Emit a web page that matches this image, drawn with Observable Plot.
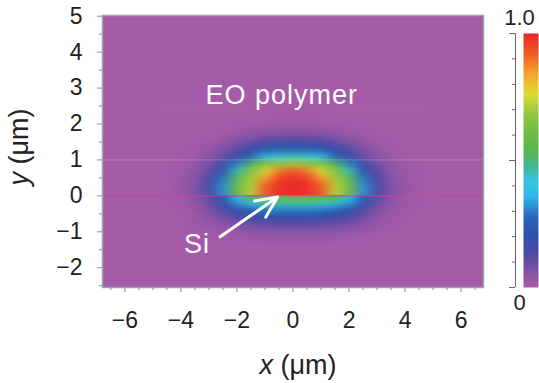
<!DOCTYPE html>
<html><head><meta charset="utf-8">
<script src="https://cdn.jsdelivr.net/npm/d3@7"></script>
<script src="https://cdn.jsdelivr.net/npm/@observablehq/plot@0.6"></script>
<style>body{margin:0;background:#fff} #wrap{position:relative;width:539px;height:383px}</style>
</head><body><div id="wrap"></div>
<script>
const FONT = '"Liberation Sans", Arial, Helvetica, sans-serif';

// Sampling grid of the normalised field |E|^2
const gridX = [-5,-4.5,-4,-3.5,-3,-2.5,-2,-1.5,-1,-0.5,0,0.5,1,1.5,2,2.5,3,3.5,4,4.5,5];
// EO polymer side (y > 0), rows from top to bottom
const upperY = [2.5,2.3,2.1,1.9,1.7,1.5,1.3,1.1,0.9,0.7,0.5,0.3,0.1];
const upperRows = [
  [0,0,0,0,0,0,0,0,0,0,0,0,0,0,0,0,0,0,0,0,0],
  [0,0,0,0,0,0,0,0,0.005,0.005,0.005,0.005,0.005,0,0,0,0,0,0,0,0],
  [0,0,0,0,0,0,0.005,0.01,0.01,0.015,0.015,0.015,0.01,0.01,0.005,0,0,0,0,0,0],
  [0,0,0,0,0,0.01,0.015,0.025,0.03,0.033,0.035,0.033,0.03,0.025,0.015,0.01,0,0,0,0,0],
  [0,0,0,0,0.01,0.02,0.035,0.05,0.065,0.07,0.075,0.07,0.065,0.05,0.035,0.02,0.01,0,0,0,0],
  [0,0,0,0.01,0.02,0.04,0.07,0.10,0.13,0.145,0.15,0.145,0.13,0.10,0.07,0.04,0.02,0.01,0,0,0],
  [0,0,0.005,0.015,0.035,0.07,0.12,0.18,0.23,0.26,0.27,0.26,0.23,0.18,0.12,0.07,0.035,0.015,0.005,0,0],
  [0,0,0.01,0.025,0.05,0.10,0.17,0.27,0.38,0.43,0.45,0.43,0.38,0.27,0.17,0.10,0.05,0.025,0.01,0,0],
  [0,0.005,0.015,0.035,0.08,0.16,0.30,0.52,0.64,0.68,0.70,0.68,0.64,0.52,0.30,0.16,0.08,0.035,0.015,0.005,0],
  [0,0.01,0.02,0.045,0.11,0.22,0.45,0.65,0.76,0.88,0.93,0.88,0.76,0.65,0.45,0.22,0.11,0.045,0.02,0.01,0],
  [0,0.01,0.025,0.055,0.13,0.29,0.55,0.70,0.85,0.96,0.975,0.96,0.85,0.70,0.55,0.29,0.13,0.055,0.025,0.01,0],
  [0,0.01,0.03,0.06,0.14,0.32,0.60,0.72,0.92,0.98,1.00,0.98,0.92,0.72,0.60,0.32,0.14,0.06,0.03,0.01,0],
  [0,0.01,0.03,0.06,0.14,0.32,0.60,0.72,0.92,0.98,0.99,0.98,0.92,0.72,0.60,0.32,0.14,0.06,0.03,0.01,0]
];
// Si / lower side (y < 0), rows from top to bottom
const lowerY = [-0.075,-0.225,-0.375,-0.525,-0.675,-0.825,-0.975,-1.125,-1.275,-1.425];
const lowerRows = [
  [0,0.01,0.02,0.05,0.11,0.22,0.40,0.53,0.57,0.58,0.58,0.58,0.57,0.53,0.40,0.22,0.11,0.05,0.02,0.01,0],
  [0,0.01,0.02,0.04,0.09,0.18,0.31,0.40,0.44,0.46,0.46,0.46,0.44,0.40,0.31,0.18,0.09,0.04,0.02,0.01,0],
  [0,0.005,0.015,0.03,0.07,0.13,0.21,0.27,0.30,0.31,0.31,0.31,0.30,0.27,0.21,0.13,0.07,0.03,0.015,0.005,0],
  [0,0,0.01,0.025,0.055,0.10,0.15,0.19,0.21,0.22,0.22,0.22,0.21,0.19,0.15,0.10,0.055,0.025,0.01,0,0],
  [0,0,0.01,0.02,0.04,0.07,0.10,0.13,0.14,0.15,0.15,0.15,0.14,0.13,0.10,0.07,0.04,0.02,0.01,0,0],
  [0,0,0.005,0.015,0.03,0.05,0.07,0.085,0.09,0.10,0.10,0.10,0.09,0.085,0.07,0.05,0.03,0.015,0.005,0,0],
  [0,0,0,0.01,0.02,0.03,0.04,0.05,0.055,0.06,0.06,0.06,0.055,0.05,0.04,0.03,0.02,0.01,0,0,0],
  [0,0,0,0,0.01,0.015,0.02,0.03,0.03,0.035,0.035,0.035,0.03,0.03,0.02,0.015,0.01,0,0,0,0],
  [0,0,0,0,0,0.005,0.01,0.01,0.015,0.015,0.015,0.015,0.015,0.01,0.01,0.005,0,0,0,0,0],
  [0,0,0,0,0,0,0,0,0,0,0,0,0,0,0,0,0,0,0,0,0]
];

const xTicks = [-6,-4,-2,0,2,4,6];
const xMinorTicks = [-6.5,-5.5,-5,-4.5,-3.5,-3,-2.5,-1.5,-1,-0.5,0.5,1,1.5,2.5,3,3.5,4.5,5,5.5,6.5];
const yTicks = [-2,-1,0,1,2,3,4,5];
const yMinorTicks = [-2.5,-1.5,-0.5,0.5,1.5,2.5,3.5,4.5];

const colorStops = [0,0.04,0.09,0.14,0.20,0.27,0.32,0.36,0.42,0.47,0.52,0.58,0.68,0.76,0.84,0.92,1];
const colorRamp = ["#a55ba7","#9456a8","#6e4ea6","#4a4aa4","#2e52aa","#2a62b8","#2a90d4","#2eb8ec","#3ac4e4","#3cb8a0","#56b65c","#64ba46","#8cc640","#dedc35","#f7a52c","#f25a26","#e8262a"];
const colorbarTicks = [0,0.1,0.2,0.3,0.4,0.5,0.6,0.7,0.8,0.9,1];
const colorbarMajorTicks = [0,0.5,1];
const colorbarLabels = [{v: 0, t: "0"}, {v: 1, t: "1.0"}];

const interfaceY = [0, 1];
const labels = [{text: "EO polymer", x: -0.4, y: 2.8}, {text: "Si", x: -3.43, y: -1.36}];
const arrows = [{x1: -2.6, y1: -1.14, x2: -0.55, y2: -0.03}];

const dxg = gridX[1] - gridX[0];
const dyU = upperY[0] - upperY[1];
const dyL = lowerY[0] - lowerY[1];
const color = {type: "linear", domain: colorStops, range: colorRamp, clamp: true};

const main = Plot.plot({
  width: 539, height: 383,
  marginLeft: 102, marginRight: 56, marginTop: 15, marginBottom: 96,
  style: {fontFamily: FONT, fontSize: "23px", background: "white", color: "#222"},
  x: {domain: [-6.8, 6.8], label: null},
  y: {domain: [-2.55, 5.02], label: null},
  color,
  marks: [
    Plot.frame({fill: colorRamp[0]}),
    Plot.raster(upperRows.flat(), {
      width: gridX.length, height: upperY.length,
      x1: gridX[0] - dxg / 2, x2: gridX[gridX.length - 1] + dxg / 2,
      y1: upperY[0] + dyU / 2, y2: upperY[upperY.length - 1] - dyU / 2,
      fill: d => d, imageRendering: "auto"
    }),
    Plot.raster(lowerRows.flat(), {
      width: gridX.length, height: lowerY.length,
      x1: gridX[0] - dxg / 2, x2: gridX[gridX.length - 1] + dxg / 2,
      y1: lowerY[0] + dyL / 2, y2: lowerY[lowerY.length - 1] - dyL / 2,
      fill: d => d, imageRendering: "auto"
    }),
    Plot.ruleY([interfaceY[0]], {stroke: "#cc3f9c", strokeOpacity: 0.75, strokeWidth: 1.2}),
    Plot.ruleY([interfaceY[1]], {stroke: "#ffffff", strokeOpacity: 0.18, strokeWidth: 1.2}),
    Plot.arrow(arrows, {x1: "x1", y1: "y1", x2: "x2", y2: "y2", stroke: "white", strokeWidth: 3, headLength: 14, headAngle: 50}),
    Plot.text(labels, {x: "x", y: "y", text: "text", fill: "white", fontSize: 27}),
    Plot.axisX(xTicks, {tickSize: 5, tickPadding: 19, stroke: "#888", fill: "#222", label: null}),
    Plot.axisX(xMinorTicks, {tickSize: 3, tickFormat: () => "", stroke: "#888", label: null}),
    Plot.axisY(yTicks, {tickSize: 5, tickPadding: 15, stroke: "#888", fill: "#222", label: null, tickFormat: d => d < 0 ? "\u2212" + Math.abs(d) : String(d)}),
    Plot.axisY(yMinorTicks, {tickSize: 3, tickFormat: () => "", stroke: "#888", label: null}),
    Plot.frame({stroke: "#9aa8a0", strokeWidth: 1.5})
  ]
});

const svg = d3.select(main);
// smoothing filter for the sampled field: blur, then renormalise alpha (keeps edges sharp)
const filt = svg.append("defs").append("filter").attr("id", "fieldSmooth")
  .attr("x", 0).attr("y", 0).attr("width", 1).attr("height", 1)
  .attr("color-interpolation-filters", "sRGB");
filt.append("feGaussianBlur").attr("stdDeviation", "4.5 2.5");
filt.append("feComponentTransfer").append("feFuncA").attr("type", "table").attr("tableValues", "1 1");
svg.selectAll("image").attr("filter", "url(#fieldSmooth)");
svg.selectAll("text").filter(function () { return this.textContent === "EO polymer" || this.textContent === "Si"; })
  .style("letter-spacing", "1px");

const xl = svg.append("text").attr("x", 298).attr("y", 374).attr("text-anchor", "middle")
  .attr("font-size", 27).attr("fill", "#222").attr("font-family", FONT);
xl.append("tspan").attr("font-style", "italic").text("x");
xl.append("tspan").text(" (\u03bcm)");
const yl = svg.append("text").attr("transform", "translate(28,147) rotate(-90)").attr("text-anchor", "middle")
  .attr("font-size", 27).attr("fill", "#222").attr("font-family", FONT);
yl.append("tspan").attr("font-style", "italic").text("y");
yl.append("tspan").text(" (\u03bcm)");

const cb = Plot.plot({
  width: 44, height: 383,
  marginLeft: 28, marginRight: 1, marginTop: 33, marginBottom: 96,
  style: {background: "transparent", fontFamily: FONT, fontSize: "22px", overflow: "visible", color: "#222"},
  x: {domain: [0, 1], axis: null},
  y: {domain: [0, 1], label: null},
  color,
  marks: [
    Plot.raster({x1: 0, x2: 1, y1: 0, y2: 1, fill: (x, y) => y}),
    Plot.ruleX([0], {y1: 0, y2: 1, dx: -8, stroke: "#666"}),
    Plot.axisY(colorbarTicks, {tickSize: 3, dx: -8, tickFormat: () => "", stroke: "#666", label: null}),
    Plot.axisY(colorbarMajorTicks, {tickSize: 6, dx: -8, tickFormat: () => "", stroke: "#666", label: null}),
    Plot.text(colorbarLabels.filter(d => d.v === 1), {x: 0, y: "v", text: "t", dx: -4, dy: -16, fill: "#222"}),
    Plot.text(colorbarLabels.filter(d => d.v === 0), {x: 0, y: "v", text: "t", dx: -4, dy: 15, fill: "#222"})
  ]
});
cb.style.position = "absolute";
cb.style.left = "495px";
cb.style.top = "0px";

const wrap = document.getElementById("wrap");
wrap.appendChild(main);
wrap.appendChild(cb);
</script>
</body></html>
